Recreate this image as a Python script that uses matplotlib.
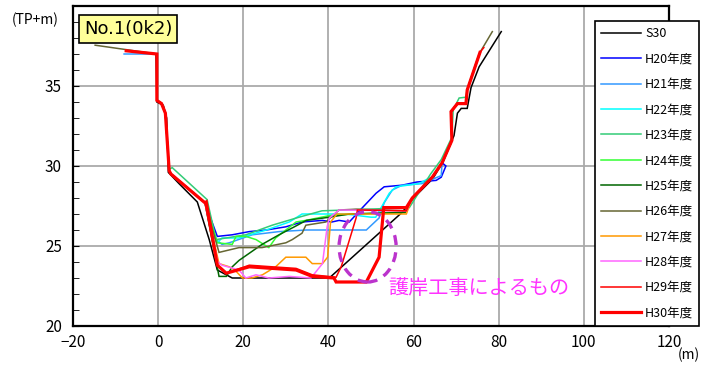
import matplotlib
matplotlib.use("Agg")
import matplotlib.pyplot as plt
from matplotlib.patches import Ellipse

plt.rcParams['font.family'] = ['Liberation Sans Narrow', 'Noto Sans CJK JP', 'DejaVu Sans']

# ---------------- data ----------------
series_labels = ["S30", "H20年度", "H21年度", "H22年度", "H23年度", "H24年度",
                 "H25年度", "H26年度", "H27年度", "H28年度", "H29年度", "H30年度"]
series_colors = ["#000000", "#0000FF", "#3399FF", "#00FFFF", "#33CC77", "#33FF33",
                 "#006600", "#666633", "#FF9900", "#FF66FF", "#FF0000", "#FF0000"]

left_bank_x = [-0.3, -0.3, 0.8, 1.7, 2.6, 3.0, 11.0]
left_bank_y = [37.0, 34.1, 33.9, 33.3, 29.7, 29.5, 27.7]
right_bank_x = [59.7, 64.4, 66.7, 69.0, 68.8, 70.3, 72.3, 72.6, 75.6]
right_bank_y = [28.0, 29.3, 30.2, 31.6, 33.4, 33.9, 33.9, 34.75, 37.1]

s30_x = [-0.5, -0.3, 1.2, 2.0, 2.4, 4.9, 9.2, 12.0, 13.9, 17.4, 40.2, 57.3, 60.0, 64.5, 67.0,
         69.5, 70.3, 71.2, 72.6, 73.5, 75.4, 80.6]
s30_y = [37.0, 34.0, 33.8, 33.0, 29.6, 28.9, 27.75, 25.4, 23.5, 23.0, 23.0, 27.1, 28.0, 29.2, 30.3,
         31.9, 33.3, 33.6, 33.6, 34.9, 36.2, 38.4]

h20_mid_x = [13.9, 17.4, 21.4, 25.4, 30.0, 33.8, 38.6, 40.8, 42.5, 44.9, 48.0, 51.2, 53.1, 57.3,
             60.8, 65.3, 66.5, 67.6]
h20_mid_y = [25.6, 25.7, 25.9, 26.0, 26.2, 26.5, 26.6, 26.5, 26.6, 26.5, 27.4, 28.3, 28.7, 28.8,
             29.0, 29.1, 29.3, 30.0]

h21_start_x = [-8.0]
h21_start_y = [37.0]
h21_mid_x = [12.7, 15.0, 16.7, 22.1, 28.4, 34.8, 48.9, 51.9, 53.1, 55.0, 57.3, 62.0, 66.5]
h21_mid_y = [25.6, 25.1, 25.2, 25.7, 25.9, 26.0, 26.0, 26.75, 27.7, 28.5, 28.8, 28.9, 29.4]

h22_mid_x = [13.9, 15.0, 19.0, 25.4, 30.8, 33.8, 39.4, 44.0, 50.0, 51.1, 52.6, 54.3, 55.9, 61.3, 63.7]
h22_mid_y = [25.2, 25.5, 25.5, 26.0, 26.5, 27.0, 27.0, 27.0, 26.8, 26.8, 27.5, 28.3, 28.7, 28.9, 29.25]

h23_x = [-0.3, -0.3, 0.8, 1.7, 2.6, 3.3, 11.5, 13.6, 20.6, 26.8, 33.1, 38.5, 44.2, 59.0,
         64.0, 66.5, 69.0, 69.3, 70.7, 72.3, 72.6, 75.4]
h23_y = [37.0, 34.1, 33.9, 33.3, 29.8, 29.9, 27.9, 25.4, 25.7, 26.3, 26.8, 27.2, 27.25, 27.4,
         29.5, 30.4, 31.8, 33.5, 34.25, 34.3, 34.8, 37.0]

h24_mid_x = [13.9, 17.4, 18.3, 20.6, 23.0, 26.0, 27.6, 30.0, 32.4, 34.7, 40.2, 46.0, 58.0]
h24_mid_y = [25.2, 25.1, 25.6, 25.6, 25.4, 24.9, 25.5, 26.0, 26.5, 26.6, 26.9, 27.0, 27.1]

h25_mid_x = [14.3, 16.0, 17.4, 19.0, 24.4, 28.4, 32.0, 34.8, 40.2, 44.9, 58.0]
h25_mid_y = [23.1, 23.1, 23.7, 24.1, 25.1, 25.7, 26.2, 26.6, 26.8, 27.0, 27.1]

h26_start_x = [-14.8]
h26_start_y = [37.55]
h26_mid_x = [14.3, 19.0, 24.4, 30.0, 31.5, 33.8, 34.7, 39.4, 42.5, 46.5, 58.0]
h26_mid_y = [24.6, 24.9, 24.9, 25.2, 25.4, 25.8, 26.3, 26.5, 27.25, 27.3, 27.2]
h26_end_x = [78.5]
h26_end_y = [38.4]

h27_mid_x = [14.3, 16.7, 18.0, 19.8, 22.0, 24.5, 27.6, 30.0, 34.7, 36.2, 38.6, 39.8, 40.5, 42.0, 58.3]
h27_mid_y = [23.9, 23.7, 23.5, 23.0, 23.0, 23.2, 23.7, 24.3, 24.3, 23.9, 23.9, 24.3, 26.5, 27.0, 27.0]

h28_mid_x = [14.0, 15.0, 19.0, 20.6, 23.0, 26.0, 30.8, 35.9, 38.6, 39.7, 40.2, 42.5, 58.3]
h28_mid_y = [24.0, 23.8, 23.5, 23.0, 23.2, 23.0, 23.1, 23.0, 23.9, 26.2, 26.75, 27.25, 27.2]

h29_mid_x = [13.9, 16.0, 21.4, 26.8, 32.4, 36.2, 41.8, 43.0, 46.5, 46.8, 58.3]
h29_mid_y = [23.8, 23.3, 23.8, 23.7, 23.6, 23.2, 23.05, 23.7, 26.75, 27.25, 27.2]
h29_end_x = [76.5]
h29_end_y = [37.4]

h30_start_x = [-7.5]
h30_start_y = [37.2]
h30_mid_x = [11.3, 13.9, 16.0, 21.4, 26.8, 32.4, 36.2, 41.3, 41.8, 48.9, 51.9, 53.0, 58.3]
h30_mid_y = [27.75, 23.8, 23.3, 23.7, 23.6, 23.5, 23.1, 23.0, 22.75, 22.75, 24.3, 27.4, 27.4]


# assemble
def build(start_x, start_y, mid_x, mid_y, end_x=None, end_y=None):
    xs = list(start_x) + left_bank_x + list(mid_x)
    ys = list(start_y) + left_bank_y + list(mid_y)
    i0 = 0
    while i0 < len(right_bank_x) and right_bank_x[i0] <= mid_x[-1] and right_bank_y[i0] <= mid_y[-1]:
        i0 += 1
    xs += right_bank_x[i0:]
    ys += right_bank_y[i0:]
    if end_x:
        xs += list(end_x)
        ys += list(end_y)
    return xs, ys


series = [
    (s30_x, s30_y),
    build([], [], h20_mid_x, h20_mid_y),
    build(h21_start_x, h21_start_y, h21_mid_x, h21_mid_y),
    build([], [], h22_mid_x, h22_mid_y),
    (h23_x, h23_y),
    build([], [], h24_mid_x, h24_mid_y),
    build([], [], h25_mid_x, h25_mid_y),
    build(h26_start_x, h26_start_y, h26_mid_x, h26_mid_y, h26_end_x, h26_end_y),
    build([], [], h27_mid_x, h27_mid_y),
    build([], [], h28_mid_x, h28_mid_y),
    build([], [], h29_mid_x, h29_mid_y, h29_end_x, h29_end_y),
    build(h30_start_x, h30_start_y, h30_mid_x, h30_mid_y),
]
widths = [1.1] * 11 + [2.3]

# ---------------- figure ----------------
fig = plt.figure(figsize=(7.02, 3.65), dpi=100)
ax = fig.add_axes([73 / 702, 1 - 326 / 365, (669 - 73) / 702, (326 - 6) / 365])

handles = []
for (xs, ys), c, lw, lab in zip(series, series_colors, widths, series_labels):
    h, = ax.plot(xs, ys, color=c, lw=lw, label=lab, solid_joinstyle='miter')
    handles.append(h)

ax.set_xlim(-20, 120)
ax.set_ylim(20, 40)
ax.set_xticks(range(-20, 121, 20))
ax.set_yticks([20, 25, 30, 35])
ax.set_yticks(range(20, 41), minor=True)
ax.set_yticklabels(["20", "25", "30", "35"])
ax.grid(True, which='major', color='#AAAAAA', lw=1.3)
ax.set_axisbelow(True)
ax.tick_params(axis='both', which='both', direction='in', labelsize=11)
ax.tick_params(axis='x', which='major', length=0, pad=6)
ax.tick_params(axis='y', which='major', length=4, pad=8)
ax.tick_params(axis='y', which='minor', length=4)
for sp in ax.spines.values():
    sp.set_linewidth(1.6)

# dashed ellipse
ell = Ellipse((49.2, 24.95), 13.4, 4.4, fill=False, edgecolor='#BB33CC', lw=2.4,
              linestyle=(0, (3, 2.2)), zorder=5)
ax.add_patch(ell)
ax.text(388 / 702, 1 - 288 / 365, "護岸工事によるもの", transform=fig.transFigure,
        color='#FF33FF', fontsize=14.5, va='center', ha='left',
        family=['Noto Sans CJK JP', 'DejaVu Sans'])

# title box
fig.text(128 / 702, 1 - 29 / 365, "No.1(0k2)", ha='center', va='center', fontsize=13,
         family=['Liberation Sans Narrow', 'DejaVu Sans'],
         bbox=dict(boxstyle='square,pad=0.25', facecolor='#FFFF99', edgecolor='black', lw=1.2))

fig.text(35 / 702, 1 - 20 / 365, "(TP+m)", ha='center', va='center', fontsize=10)
fig.text(700 / 702, 1 - 355 / 365, "(m)", ha='right', va='center', fontsize=10)

leg = fig.legend(handles, series_labels, loc='upper left',
                 bbox_to_anchor=(595 / 702, 1 - 21 / 365),
                 prop={'family': ['Liberation Sans Narrow', 'Noto Sans CJK JP'], 'size': 9},
                 handlelength=3.2, handletextpad=0.3, labelspacing=0.99,
                 borderpad=0.5, borderaxespad=0, fancybox=False, framealpha=1,
                 edgecolor='black')
leg.get_frame().set_linewidth(1.2)

fig.savefig("out.png", dpi=100)
